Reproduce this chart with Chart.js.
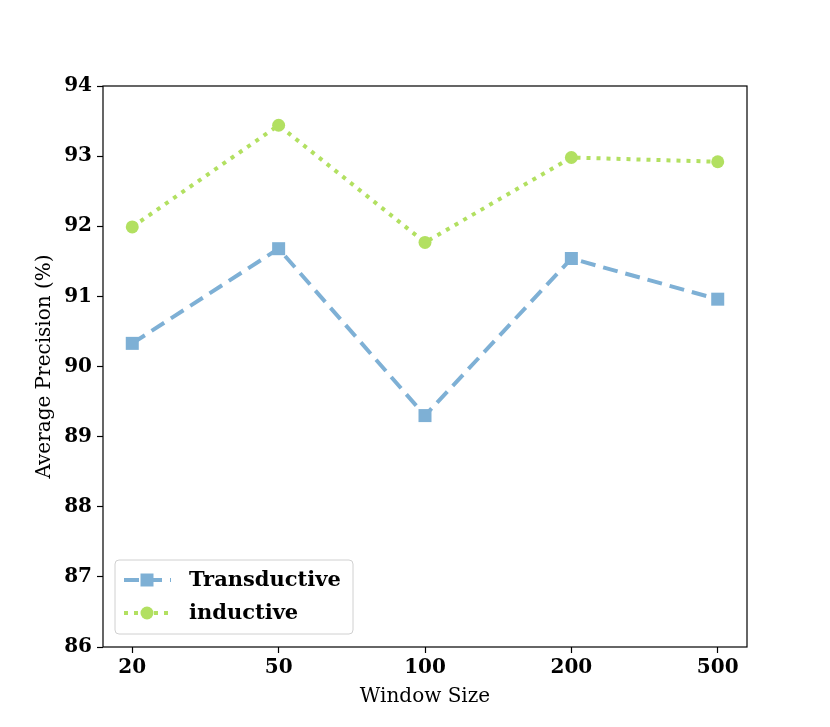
<!DOCTYPE html>
<html>
<head>
<meta charset="utf-8">
<script src="https://cdn.jsdelivr.net/npm/chart.js@4"></script>
<style>
  html, body { margin: 0; padding: 0; background: #fff; }
  #wrap { width: 830px; height: 727px; }
</style>
</head>
<body>
<div id="wrap"><canvas id="apChart" width="830" height="727"></canvas></div>
<script>
const windowSizes = ['20', '50', '100', '200', '500'];
const transductive = [90.33, 91.68, 89.30, 91.54, 90.96];
const inductive = [91.99, 93.44, 91.77, 92.98, 92.92];
const yTicks = [86, 87, 88, 89, 90, 91, 92, 93, 94];

const serif = '"DejaVu Serif", "Liberation Serif", serif';

function toPoints(vals) {
    return vals.map((v, i) => ({ x: i, y: v }));
}

// frame + legend drawn like matplotlib
const framePlugin = {
    id: 'frame',
    afterDraw(chart) {
        const ctx = chart.ctx;
        const a = chart.chartArea;
        ctx.save();
        ctx.strokeStyle = '#000';
        ctx.lineWidth = 1.2;
        ctx.strokeRect(a.left, a.top, a.right - a.left, a.bottom - a.top);

        // legend box
        const bx = a.left + 12, by = a.bottom - 87, bw = 238, bh = 74;
        ctx.fillStyle = 'rgba(255,255,255,0.8)';
        ctx.strokeStyle = '#d0d0d0';
        ctx.lineWidth = 1;
        ctx.beginPath();
        ctx.roundRect(bx, by, bw, bh, 4);
        ctx.fill();
        ctx.stroke();

        chart.data.datasets.forEach((ds, i) => {
            const y = by + 20 + i * 33;
            ctx.strokeStyle = ds.borderColor;
            ctx.lineWidth = ds.borderWidth;
            ctx.setLineDash(ds.borderDash);
            ctx.beginPath();
            ctx.moveTo(bx + 9, y);
            ctx.lineTo(bx + 56, y);
            ctx.stroke();
            ctx.setLineDash([]);
            ctx.fillStyle = ds.pointBackgroundColor;
            const cx = bx + 32;
            ctx.beginPath();
            if (ds.pointStyle === 'rect') {
                ctx.rect(cx - 6.5, y - 6.5, 13, 13);
            } else {
                ctx.arc(cx, y, ds.pointRadius, 0, Math.PI * 2);
            }
            ctx.fill();
            ctx.fillStyle = '#000';
            ctx.font = 'bold 21px ' + serif;
            ctx.textBaseline = 'middle';
            ctx.textAlign = 'left';
            ctx.fillText(ds.label, bx + 74, y + 1);
        });
        ctx.restore();
    }
};

const ctx = document.getElementById('apChart').getContext('2d');
const apChart = new Chart(ctx, {
    type: 'line',
    data: {
        datasets: [
            {
                label: 'Transductive',
                data: toPoints(transductive),
                borderColor: '#7eb0d5',
                backgroundColor: '#7eb0d5',
                pointBackgroundColor: '#7eb0d5',
                pointBorderWidth: 0,
                borderWidth: 4,
                borderDash: [15, 8],
                pointStyle: 'rect',
                pointRadius: 9.2,
                tension: 0,
            },
            {
                label: 'inductive',
                data: toPoints(inductive),
                borderColor: '#b2e061',
                backgroundColor: '#b2e061',
                pointBackgroundColor: '#b2e061',
                pointBorderWidth: 0,
                borderWidth: 4,
                borderDash: [4, 6],
                pointStyle: 'circle',
                pointRadius: 6.5,
                tension: 0,
            },
        ],
    },
    plugins: [framePlugin],
    options: {
        responsive: false,
        animation: false,
        layout: { padding: { left: 33, right: 83, top: 86, bottom: 18 } },
        plugins: {
            legend: { display: false },
            tooltip: { enabled: false },
        },
        scales: {
            x: {
                type: 'linear',
                min: -0.2,
                max: 4.2,
                afterBuildTicks(scale) {
                    scale.ticks = windowSizes.map((_, i) => ({ value: i }));
                },
                afterFit(scale) { scale.height = 62; },
                grid: {
                    drawOnChartArea: false,
                    color: '#000',
                    tickLength: 6,
                    tickWidth: 1.2,
                },
                border: { display: false },
                ticks: {
                    color: '#000',
                    font: { family: serif, size: 20, weight: 'bold' },
                    padding: 3,
                    maxRotation: 0,
                    callback: (v) => windowSizes[v],
                },
                title: {
                    display: true,
                    text: 'Window Size',
                    color: '#000',
                    font: { family: serif, size: 20 },
                    padding: { top: 0, bottom: 0 },
                },
            },
            y: {
                min: 86,
                max: 94,
                afterBuildTicks(scale) {
                    scale.ticks = yTicks.map((v) => ({ value: v }));
                },
                afterFit(scale) { scale.width = 70; },
                grid: {
                    drawOnChartArea: false,
                    color: '#000',
                    tickLength: 6,
                    tickWidth: 1.2,
                },
                border: { display: false },
                ticks: {
                    color: '#000',
                    font: { family: serif, size: 20, weight: 'bold' },
                    padding: 5,
                },
                title: {
                    display: true,
                    text: 'Average Precision (%)',
                    color: '#000',
                    font: { family: serif, size: 20 },
                    padding: { top: 0, bottom: 4 },
                },
            },
        },
    },
});
</script>
</body>
</html>
